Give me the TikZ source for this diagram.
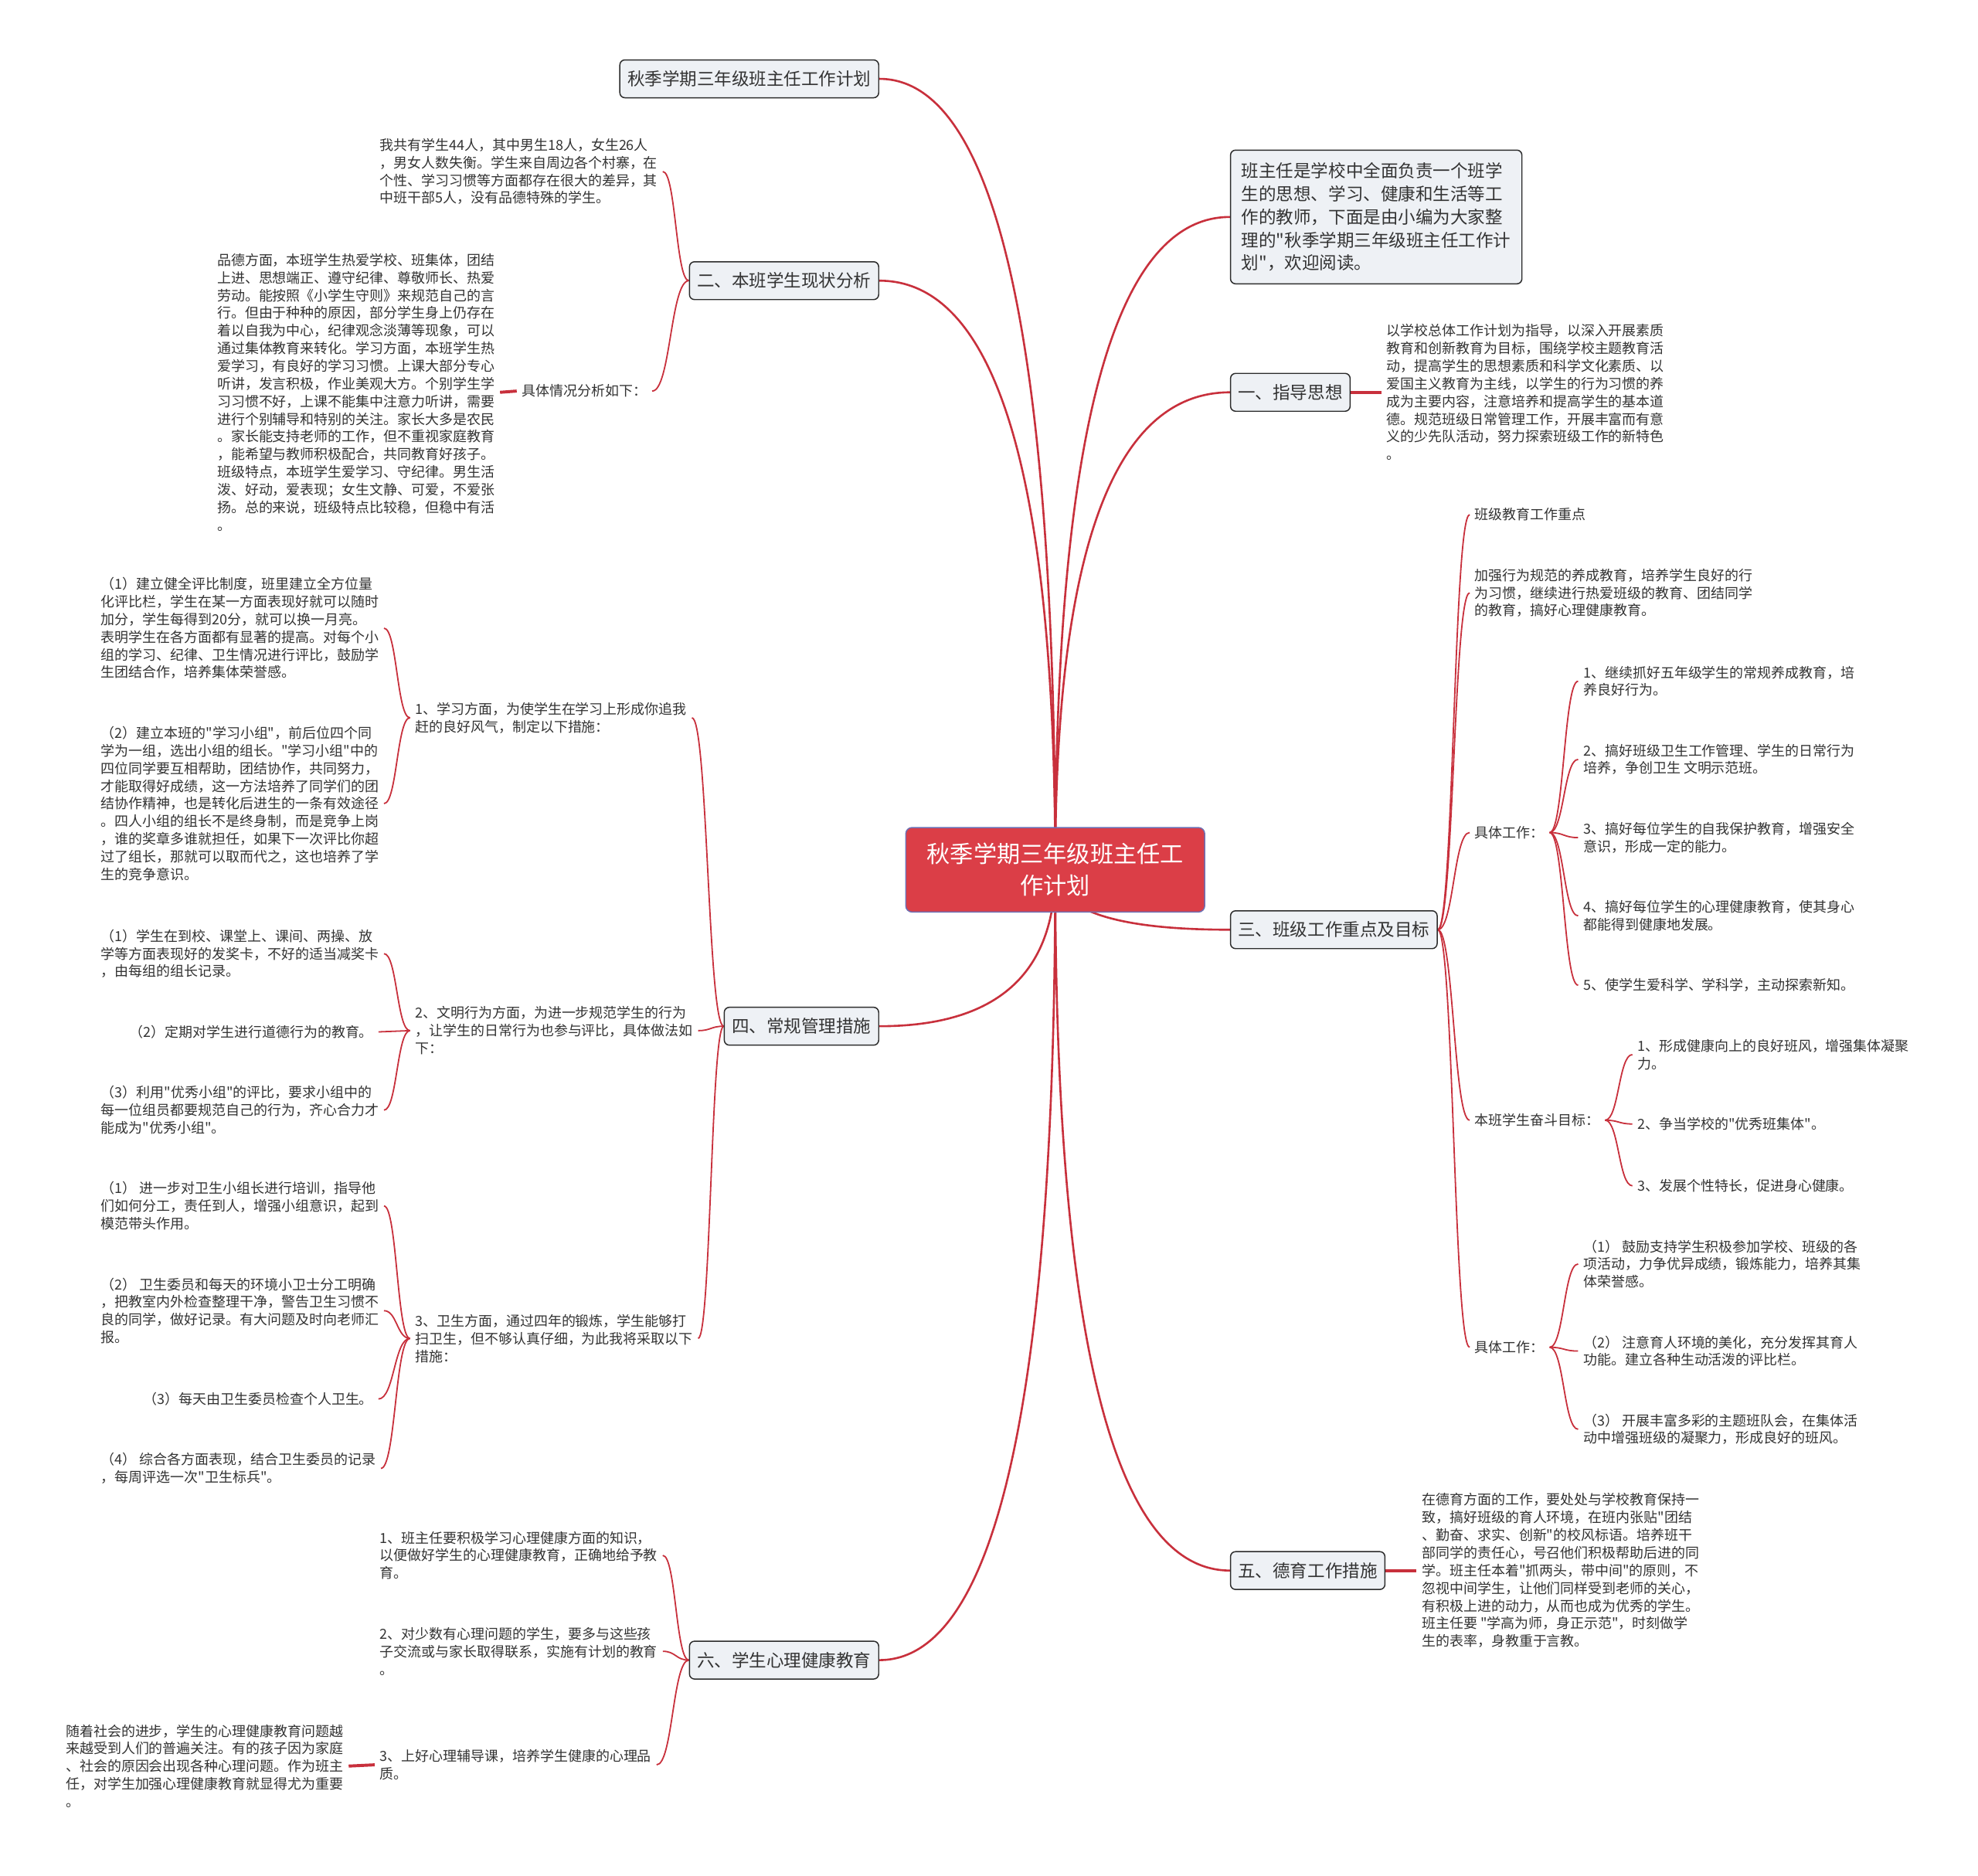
\documentclass[tikz,border=0pt]{standalone}
\usepackage{fontspec}
\setmainfont{Noto Sans CJK SC}[Ligatures=TeXOff]
\usetikzlibrary{calc,backgrounds}
\definecolor{linered}{HTML}{C8303C}
\definecolor{topicfill}{HTML}{EEF1F5}
\definecolor{topicdraw}{HTML}{2B2B2B}
\definecolor{centerfill}{HTML}{DB3E47}
\definecolor{centerdraw}{HTML}{6D6FB3}
\definecolor{txt}{HTML}{333333}
\newcommand\leaffont{\fontsize{11}{14}\selectfont}
\newcommand\topicfont{\fontsize{13.8}{18.3}\selectfont}
\newcommand\centerfont{\fontsize{18.5}{25}\selectfont}
\tikzset{
  topic/.style={draw=topicdraw, fill=topicfill, rounded corners=4pt, line width=0.9pt,
    font=\topicfont, text=txt, inner xsep=6pt, inner ysep=0pt, minimum height=30pt},
  centertopic/.style={draw=centerdraw, fill=centerfill, rounded corners=5pt, line width=0.9pt,
    font=\centerfont, text=white, align=center, minimum width=237pt, minimum height=67pt},
  leaf/.style={font=\leaffont, text=txt, align=left, inner xsep=4pt, inner ysep=1pt},
  mainconn/.style={draw=linered, line width=1.6pt},
  subconn/.style={draw=linered, line width=1.1pt},
  stub/.style={draw=linered, line width=2.4pt},
}
\newcommand\mainlink[2]{\draw[mainconn] (#1) .. controls ($(#1)!0.667!(#1 |- #2)$) and ($(#2)!0.667!(#1 |- #2)$) .. (#2);}
\newcommand\sublink[3][subconn]{\draw[#1] (#2) .. controls ($(#2)!0.5!(#2 -| #3)$) and ($(#3)!0.5!(#3 -| #2)$) .. (#3);}
\begin{document}
\begin{tikzpicture}[x=1pt,y=-1pt]
\path[use as bounding box] (0,0) rectangle (1568,1487);

% central topic
\node[centertopic] (c) at (836.5,689.5) {秋季学期三年级班主任工\\作计划};

% main branches
\node[topic, anchor=east] (t0) at (697,62.5) {秋季学期三年级班主任工作计划};
\node[topic, anchor=east] (t2) at (697,222.5) {二、本班学生现状分析};
\node[topic, anchor=east] (t4) at (697,813.5) {四、常规管理措施};
\node[topic, anchor=east] (t6) at (697,1316) {六、学生心理健康教育};
\node[topic, anchor=west, align=left, inner xsep=7pt, minimum width=231pt, minimum height=106pt] (intro) at (975,172) {班主任是学校中全面负责一个班学\\生的思想、学习、健康和生活等工\\作的教师，下面是由小编为大家整\\理的"秋季学期三年级班主任工作计\\划"，欢迎阅读。};
\node[topic, anchor=west] (t1) at (975,311) {一、指导思想};
\node[topic, anchor=west] (t3) at (975,737) {三、班级工作重点及目标};
\node[topic, anchor=west] (t5) at (975,1245) {五、德育工作措施};

% branch 二
\node[leaf, anchor=west] (l2a) at (297,136) {我共有学生44人，其中男生18人，女生26人\\，男女人数失衡。学生来自周边各个村寨，在\\个性、学习习惯等方面都存在很大的差异，其\\中班干部5人，没有品德特殊的学生。};
\node[leaf, anchor=east] (l2b) at (517,310) {具体情况分析如下：};
\node[leaf, anchor=west] (l2c) at (168,311) {品德方面，本班学生热爱学校、班集体，团结\\上进、思想端正、遵守纪律、尊敬师长、热爱\\劳动。能按照《小学生守则》来规范自己的言\\行。但由于种种的原因，部分学生身上仍存在\\着以自我为中心，纪律观念淡薄等现象，可以\\通过集体教育来转化。学习方面，本班学生热\\爱学习，有良好的学习习惯。上课大部分专心\\听讲，发言积极，作业美观大方。个别学生学\\习习惯不好，上课不能集中注意力听讲，需要\\进行个别辅导和特别的关注。家长大多是农民\\。家长能支持老师的工作，但不重视家庭教育\\，能希望与教师积极配合，共同教育好孩子。\\班级特点，本班学生爱学习、守纪律。男生活\\泼、好动，爱表现；女生文静、可爱，不爱张\\扬。总的来说，班级特点比较稳，但稳中有活\\。};

% branch 四
\node[leaf, anchor=west] (s1) at (325,569) {1、学习方面，为使学生在学习上形成你追我\\赶的良好风气，制定以下措施：};
\node[leaf, anchor=west] (s2) at (325,817) {2、文明行为方面，为进一步规范学生的行为\\，让学生的日常行为也参与评比，具体做法如\\下：};
\node[leaf, anchor=west] (s3) at (325,1061) {3、卫生方面，通过四年的锻炼，学生能够打\\扫卫生，但不够认真仔细，为此我将采取以下\\措施：};
\node[leaf, anchor=west] (l41a) at (76,498) {（1）建立健全评比制度，班里建立全方位量\\化评比栏，学生在某一方面表现好就可以随时\\加分，学生每得到20分，就可以换一月亮。\\表明学生在各方面都有显著的提高。对每个小\\组的学习、纪律、卫生情况进行评比，鼓励学\\生团结合作，培养集体荣誉感。};
\node[leaf, anchor=west] (l41b) at (76,637) {（2）建立本班的"学习小组"，前后位四个同\\学为一组，选出小组的组长。"学习小组"中的\\四位同学要互相帮助，团结协作，共同努力，\\才能取得好成绩，这一方法培养了同学们的团\\结协作精神，也是转化后进生的一条有效途径\\。四人小组的组长不是终身制，而是竞争上岗\\，谁的奖章多谁就担任，如果下一次评比你超\\过了组长，那就可以取而代之，这也培养了学\\生的竞争意识。};
\node[leaf, anchor=west] (l42a) at (76,756) {（1）学生在到校、课堂上、课间、两操、放\\学等方面表现好的发奖卡，不好的适当减奖卡\\，由每组的组长记录。};
\node[leaf, anchor=east] (l42b) at (300,818) {（2）定期对学生进行道德行为的教育。};
\node[leaf, anchor=west] (l42c) at (76,880) {（3）利用"优秀小组"的评比，要求小组中的\\每一位组员都要规范自己的行为，齐心合力才\\能成为"优秀小组"。};
\node[leaf, anchor=west] (l43a) at (76,956) {（1） 进一步对卫生小组长进行培训，指导他\\们如何分工，责任到人，增强小组意识，起到\\模范带头作用。};
\node[leaf, anchor=west] (l43b) at (76,1039) {（2） 卫生委员和每天的环境小卫士分工明确\\，把教室内外检查整理干净，警告卫生习惯不\\良的同学，做好记录。有大问题及时向老师汇\\报。};
\node[leaf, anchor=east] (l43c) at (300,1109) {（3）每天由卫生委员检查个人卫生。};
\node[leaf, anchor=west] (l43d) at (76,1164) {（4） 综合各方面表现，结合卫生委员的记录\\，每周评选一次"卫生标兵"。};

% branch 六
\node[leaf, anchor=west] (l6a) at (297,1233) {1、班主任要积极学习心理健康方面的知识，\\以便做好学生的心理健康教育，正确地给予教\\育。};
\node[leaf, anchor=west] (l6b) at (297,1309) {2、对少数有心理问题的学生，要多与这些孩\\子交流或与家长取得联系，实施有计划的教育\\。};
\node[leaf, anchor=west] (l6c) at (297,1399) {3、上好心理辅导课，培养学生健康的心理品\\质。};
\node[leaf, anchor=west] (l6d) at (48,1400) {随着社会的进步，学生的心理健康教育问题越\\来越受到人们的普遍关注。有的孩子因为家庭\\、社会的原因会出现各种心理问题。作为班主\\任，对学生加强心理健康教育就显得尤为重要\\。};

% branch 一
\node[leaf, anchor=west] (l1) at (1095,311) {以学校总体工作计划为指导，以深入开展素质\\教育和创新教育为目标，围绕学校主题教育活\\动，提高学生的思想素质和科学文化素质、以\\爱国主义教育为主线，以学生的行为习惯的养\\成为主要内容，注意培养和提高学生的基本道\\德。规范班级日常管理工作，开展丰富而有意\\义的少先队活动，努力探索班级工作的新特色\\。};

% branch 三
\node[leaf, anchor=west] (r3a) at (1165,408) {班级教育工作重点};
\node[leaf, anchor=west] (r3b) at (1165,470) {加强行为规范的养成教育，培养学生良好的行\\为习惯，继续进行热爱班级的教育、团结同学\\的教育，搞好心理健康教育。};
\node[leaf, anchor=west] (r3c) at (1165,660) {具体工作：};
\node[leaf, anchor=west] (r3d) at (1165,888) {本班学生奋斗目标：};
\node[leaf, anchor=west] (r3e) at (1165,1068) {具体工作：};
\node[leaf, anchor=west] (r3c1) at (1251,540) {1、继续抓好五年级学生的常规养成教育，培\\养良好行为。};
\node[leaf, anchor=west] (r3c2) at (1251,602) {2、搞好班级卫生工作管理、学生的日常行为\\培养，争创卫生 文明示范班。};
\node[leaf, anchor=west] (r3c3) at (1251,664) {3、搞好每位学生的自我保护教育，增强安全\\意识，形成一定的能力。};
\node[leaf, anchor=west] (r3c4) at (1251,726) {4、搞好每位学生的心理健康教育，使其身心\\都能得到健康地发展。};
\node[leaf, anchor=west] (r3c5) at (1251,781) {5、使学生爱科学、学科学，主动探索新知。};
\node[leaf, anchor=west] (r3d1) at (1294,836) {1、形成健康向上的良好班风，增强集体凝聚\\力。};
\node[leaf, anchor=west] (r3d2) at (1294,891) {2、争当学校的"优秀班集体"。};
\node[leaf, anchor=west] (r3d3) at (1294,940) {3、发展个性特长，促进身心健康。};
\node[leaf, anchor=west] (r3e1) at (1251,1002) {（1） 鼓励支持学生积极参加学校、班级的各\\项活动，力争优异成绩，锻炼能力，培养其集\\体荣誉感。};
\node[leaf, anchor=west] (r3e2) at (1251,1071) {（2） 注意育人环境的美化，充分发挥其育人\\功能。建立各种生动活泼的评比栏。};
\node[leaf, anchor=west] (r3e3) at (1251,1133) {（3） 开展丰富多彩的主题班队会，在集体活\\动中增强班级的凝聚力，形成良好的班风。};

% branch 五
\node[leaf, anchor=west] (l5) at (1123,1245) {在德育方面的工作，要处处与学校教育保持一\\致，搞好班级的育人环境，在班内张贴"团结\\、勤奋、求实、创新"的校风标语。培养班干\\部同学的责任心，号召他们积极帮助后进的同\\学。班主任本着"抓两头，带中间"的原则，不\\忽视中间学生，让他们同样受到老师的关心，\\有积极上进的动力，从而也成为优秀的学生。\\班主任要 "学高为师，身正示范"，时刻做学\\生的表率，身教重于言教。};

\begin{scope}[on background layer]
  \fill[white] (0,0) rectangle (1568,1487);
  \mainlink{c.center}{t0.east}
  \mainlink{c.center}{t2.east}
  \mainlink{c.center}{t4.east}
  \mainlink{c.center}{t6.east}
  \mainlink{c.center}{intro.west}
  \mainlink{c.center}{t1.west}
  \mainlink{c.center}{t3.west}
  \mainlink{c.center}{t5.west}
  % 二
  \sublink{t2.west}{l2a.east}
  \sublink{t2.west}{l2b.east}
  \sublink[stub]{l2b.west}{l2c.east}
  % 四
  \sublink{t4.west}{s1.east}
  \sublink{t4.west}{s2.east}
  \sublink{t4.west}{s3.east}
  \sublink{s1.west}{l41a.east}
  \sublink{s1.west}{l41b.east}
  \sublink{s2.west}{l42a.east}
  \sublink{s2.west}{l42b.east}
  \sublink{s2.west}{l42c.east}
  \sublink{s3.west}{l43a.east}
  \sublink{s3.west}{l43b.east}
  \sublink{s3.west}{l43c.east}
  \sublink{s3.west}{l43d.east}
  % 六
  \sublink{t6.west}{l6a.east}
  \sublink{t6.west}{l6b.east}
  \sublink{t6.west}{l6c.east}
  \sublink[stub]{l6c.west}{l6d.east}
  % 一
  \sublink[stub]{t1.east}{l1.west}
  % 三
  \sublink{t3.east}{r3a.west}
  \sublink{t3.east}{r3b.west}
  \sublink{t3.east}{r3c.west}
  \sublink{t3.east}{r3d.west}
  \sublink{t3.east}{r3e.west}
  \sublink{r3c.east}{r3c1.west}
  \sublink{r3c.east}{r3c2.west}
  \sublink{r3c.east}{r3c3.west}
  \sublink{r3c.east}{r3c4.west}
  \sublink{r3c.east}{r3c5.west}
  \sublink{r3d.east}{r3d1.west}
  \sublink{r3d.east}{r3d2.west}
  \sublink{r3d.east}{r3d3.west}
  \sublink{r3e.east}{r3e1.west}
  \sublink{r3e.east}{r3e2.west}
  \sublink{r3e.east}{r3e3.west}
  % 五
  \sublink[stub]{t5.east}{l5.west}
\end{scope}
\end{tikzpicture}
\end{document}
